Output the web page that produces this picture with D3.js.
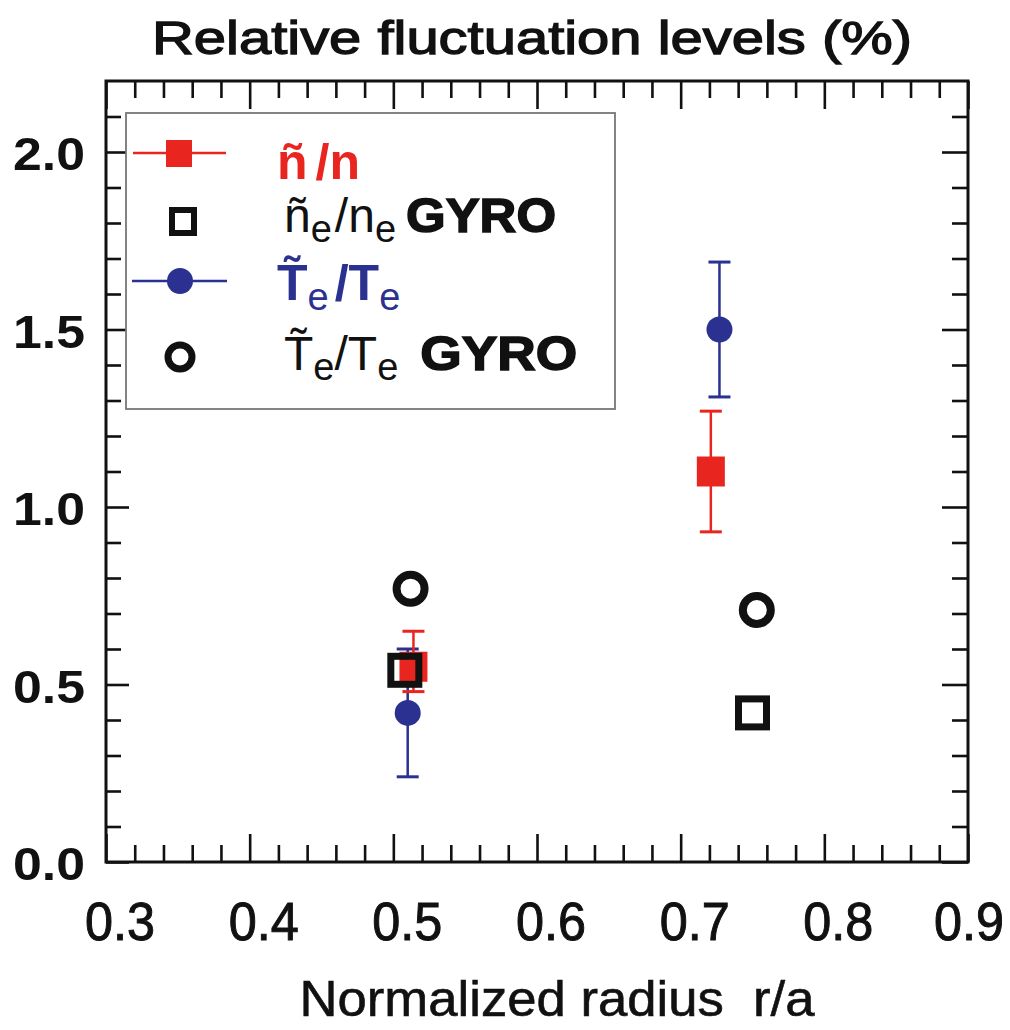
<!DOCTYPE html>
<html><head><meta charset="utf-8">
<script src="https://cdn.jsdelivr.net/npm/d3@7"></script>
<style>body{margin:0;background:#fff}svg{display:block}</style>
</head><body>
<script>
// ---- data ----
const xTickLabels = ["0.3","0.4","0.5","0.6","0.7","0.8","0.9"];
const yTickLabels = ["0.0","0.5","1.0","1.5","2.0"];
const xMajor = [0.3,0.4,0.5,0.6,0.7,0.8,0.9];
const yMajor = [0.0,0.5,1.0,1.5,2.0];
const xMinor = [0.32,0.34,0.36,0.38,0.42,0.44,0.46,0.48,0.52,0.54,0.56,0.58,0.62,0.64,0.66,0.68,0.72,0.74,0.76,0.78,0.82,0.84,0.86,0.88];
const yMinor = [0.1,0.2,0.3,0.4,0.6,0.7,0.8,0.9,1.1,1.2,1.3,1.4,1.6,1.7,1.8,1.9,2.1];

// measured n~/n (red) with error bars
const nExpX = [0.514, 0.721];
const nExpY = [0.55, 1.10];
const nExpLo = [0.48, 0.93];
const nExpHi = [0.65, 1.27];
// measured Te~/Te (blue) with error bars
const tExpX = [0.510, 0.727];
const tExpY = [0.42, 1.50];
const tExpLo = [0.24, 1.31];
const tExpHi = [0.60, 1.69];
// GYRO simulations
const nGyroX = [0.508, 0.750];
const nGyroY = [0.54, 0.42];
const tGyroX = [0.512, 0.753];
const tGyroY = [0.77, 0.71];

const RED = "#e8261f", BLUE = "#2b3190";

const W = 1010, H = 1030;
const L = 106, R = 968, T = 81, B = 862;

const svg = d3.select("body").append("svg").attr("width", W).attr("height", H)
  .style("font-family", "'Liberation Sans', Arial, sans-serif");

const x = d3.scaleLinear().domain([0.3, 0.9]).range([L, R]);
const y = d3.scaleLinear().domain([0, 2.2]).range([B, T]);

// title
svg.append("text").attr("x", 532).attr("y", 54).attr("text-anchor", "middle")
  .attr("font-size", 46).attr("fill", "#111").attr("stroke", "#111").attr("stroke-width", 1.3)
  .attr("textLength", 760).attr("lengthAdjust", "spacingAndGlyphs")
  .text("Relative fluctuation levels (%)");

// axes with inward ticks
function axisStyle(g){ g.selectAll("path").remove(); g.selectAll("line").attr("stroke","#111").attr("stroke-width",2.6); }
svg.append("g").attr("transform", `translate(0,${B})`).call(d3.axisBottom(x).tickValues(xMinor).tickSize(-17).tickFormat("")).call(axisStyle);
svg.append("g").attr("transform", `translate(0,${B})`).call(d3.axisBottom(x).tickValues(xMajor).tickSize(-28).tickFormat("")).call(axisStyle);
svg.append("g").attr("transform", `translate(0,${T})`).call(d3.axisTop(x).tickValues(xMinor).tickSize(-17).tickFormat("")).call(axisStyle);
svg.append("g").attr("transform", `translate(0,${T})`).call(d3.axisTop(x).tickValues(xMajor).tickSize(-28).tickFormat("")).call(axisStyle);
svg.append("g").attr("transform", `translate(${L},0)`).call(d3.axisLeft(y).tickValues(yMinor).tickSize(-15).tickFormat("")).call(axisStyle);
svg.append("g").attr("transform", `translate(${L},0)`).call(d3.axisLeft(y).tickValues(yMajor).tickSize(-23).tickFormat("")).call(axisStyle);
svg.append("g").attr("transform", `translate(${R},0)`).call(d3.axisRight(y).tickValues(yMinor).tickSize(-16).tickFormat("")).call(axisStyle);
svg.append("g").attr("transform", `translate(${R},0)`).call(d3.axisRight(y).tickValues(yMajor).tickSize(-26).tickFormat("")).call(axisStyle);

svg.append("rect").attr("x", L).attr("y", T).attr("width", R - L).attr("height", B - T)
  .attr("fill", "none").attr("stroke", "#111").attr("stroke-width", 3);

// tick labels
svg.append("g").selectAll("text").data(xMajor).join("text")
  .attr("x", (d, i) => x(d) + 14 - (i === 6 ? 13 : 0)).attr("y", 940).attr("text-anchor", "middle")
  .attr("font-size", 54).attr("textLength", 70).attr("lengthAdjust", "spacingAndGlyphs")
  .attr("fill", "#111").attr("stroke", "#111").attr("stroke-width", 1)
  .text((d, i) => xTickLabels[i]);
svg.append("g").selectAll("text").data(yMajor).join("text")
  .attr("x", 49).attr("y", (d) => y(d) + 18).attr("text-anchor", "middle")
  .attr("font-size", 47).attr("font-weight", "bold").attr("textLength", 72).attr("lengthAdjust", "spacingAndGlyphs")
  .attr("fill", "#111").text((d, i) => yTickLabels[i]);

// x axis title
svg.append("text").attr("x", 557).attr("y", 1016).attr("text-anchor", "middle")
  .attr("font-size", 50).attr("textLength", 515).attr("lengthAdjust", "spacingAndGlyphs")
  .attr("fill", "#111").attr("stroke", "#111").attr("stroke-width", 0.6)
  .attr("xml:space", "preserve").text("Normalized radius  r/a");

// legend
const lg = svg.append("g");
lg.append("rect").attr("x", 126).attr("y", 113).attr("width", 489).attr("height", 296)
  .attr("fill", "#fff").attr("stroke", "#777").attr("stroke-width", 1.8);
// row 1
lg.append("line").attr("x1", 133).attr("x2", 226).attr("y1", 153).attr("y2", 153).attr("stroke", RED).attr("stroke-width", 2.5);
lg.append("rect").attr("x", 166).attr("y", 140).attr("width", 26).attr("height", 27).attr("fill", RED);
const t1 = lg.append("text").attr("x", 277).attr("y", 179).attr("font-size", 50).attr("font-weight", "bold").attr("fill", RED);
t1.append("tspan").text("ñ");
t1.append("tspan").attr("dx", 8).text("/n");
// row 2
lg.append("rect").attr("x", 172).attr("y", 210).attr("width", 22).attr("height", 23).attr("fill", "none").attr("stroke", "#111").attr("stroke-width", 6);
const t2 = lg.append("text").attr("x", 284).attr("y", 232).attr("font-size", 48).attr("fill", "#111");
t2.append("tspan").text("ñ");
t2.append("tspan").attr("dy", 10).attr("font-size", 38).text("e");
t2.append("tspan").attr("dy", -10).attr("dx", 3).text("/n");
t2.append("tspan").attr("dy", 10).attr("font-size", 38).text("e");
t2.append("tspan").attr("dy", -10).attr("dx", 10).attr("font-weight", "900").attr("font-size", 48)
  .attr("stroke", "#111").attr("stroke-width", 1.5)
  .attr("textLength", 150).attr("lengthAdjust", "spacingAndGlyphs").text("GYRO");
// row 3
lg.append("line").attr("x1", 132).attr("x2", 227).attr("y1", 281).attr("y2", 281).attr("stroke", BLUE).attr("stroke-width", 2.5);
lg.append("circle").attr("cx", 180).attr("cy", 281).attr("r", 13).attr("fill", BLUE);
const t3 = lg.append("text").attr("x", 277).attr("y", 300).attr("font-size", 50).attr("font-weight", "bold").attr("fill", BLUE);
t3.append("tspan").text("T\u0303");
t3.append("tspan").attr("dy", 10).attr("font-size", 38).attr("font-weight", "normal").text("e");
t3.append("tspan").attr("dy", -10).attr("dx", 6).text("/T");
t3.append("tspan").attr("dy", 10).attr("font-size", 38).attr("font-weight", "normal").text("e");
// row 4
lg.append("circle").attr("cx", 180).attr("cy", 357).attr("r", 12).attr("fill", "none").attr("stroke", "#111").attr("stroke-width", 7);
const t4 = lg.append("text").attr("x", 284).attr("y", 370).attr("font-size", 48).attr("fill", "#111");
t4.append("tspan").text("T\u0303");
t4.append("tspan").attr("dy", 10).attr("font-size", 38).text("e");
t4.append("tspan").attr("dy", -10).text("/T");
t4.append("tspan").attr("dy", 10).attr("font-size", 38).text("e");
t4.append("tspan").attr("dy", -10).attr("dx", 22).attr("font-weight", "900").attr("font-size", 48)
  .attr("stroke", "#111").attr("stroke-width", 1.5)
  .attr("textLength", 157).attr("lengthAdjust", "spacingAndGlyphs").text("GYRO");

// data layer
const plot = svg.append("g");
// GYRO Te circles
plot.selectAll("circle.tg").data(tGyroX).join("circle").attr("class", "tg")
  .attr("cx", (d) => x(d)).attr("cy", (d, i) => y(tGyroY[i])).attr("r", 14)
  .attr("fill", "none").attr("stroke", "#111").attr("stroke-width", 8);

function errBars(xs, ys, lo, hi, color, cap) {
  const g = plot.append("g");
  g.selectAll("line.v").data(xs).join("line").attr("class", "v")
    .attr("x1", (d) => x(d)).attr("x2", (d) => x(d))
    .attr("y1", (d, i) => y(lo[i])).attr("y2", (d, i) => y(hi[i]))
    .attr("stroke", color).attr("stroke-width", 2.5);
  [lo, hi].forEach((arr) => {
    g.selectAll(null).data(xs).join("line")
      .attr("x1", (d) => x(d) - cap).attr("x2", (d) => x(d) + cap)
      .attr("y1", (d, i) => y(arr[i])).attr("y2", (d, i) => y(arr[i]))
      .attr("stroke", color).attr("stroke-width", 3);
  });
}
// blue measured
errBars(tExpX, tExpY, tExpLo, tExpHi, BLUE, 11);
plot.selectAll("circle.te").data(tExpX).join("circle").attr("class", "te")
  .attr("cx", (d) => x(d)).attr("cy", (d, i) => y(tExpY[i])).attr("r", 13).attr("fill", BLUE);
// red measured
errBars(nExpX, nExpY, nExpLo, nExpHi, RED, 11);
plot.selectAll("rect.ne").data(nExpX).join("rect").attr("class", "ne")
  .attr("x", (d) => x(d) - 14).attr("y", (d, i) => y(nExpY[i]) - 15).attr("width", 28).attr("height", 30).attr("fill", RED);
// GYRO n squares
plot.selectAll("rect.ng").data(nGyroX).join("rect").attr("class", "ng")
  .attr("x", (d) => x(d) - 14).attr("y", (d, i) => y(nGyroY[i]) - 14).attr("width", 28).attr("height", 28)
  .attr("fill", "none").attr("stroke", "#111").attr("stroke-width", 7);
</script>
</body></html>
